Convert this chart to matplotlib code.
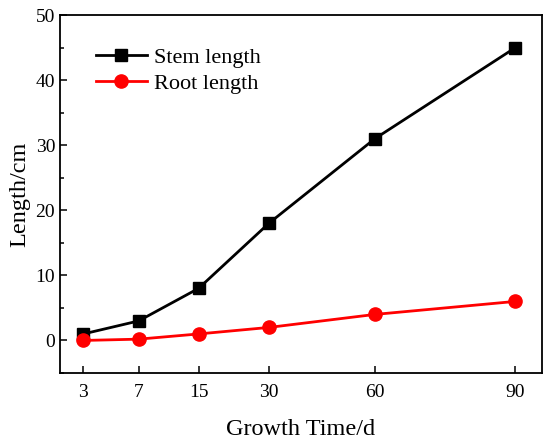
import numpy as np
import matplotlib.pyplot as plt

plt.rcParams['font.family'] = ['Liberation Serif', 'DejaVu Serif']
plt.rcParams['mathtext.fontset'] = 'stix'

# growth days and where they sit on the (uneven) x axis
days = ['3', '7', '15', '30', '60', '90']
day_pos = [0, 0.96, 2.0, 3.22, 5.06, 7.5]

stem = [1, 3, 8, 18, 31, 45]
root = [0, 0.2, 1, 2, 4, 6]

fig = plt.figure(figsize=(5.5, 4.44), dpi=100)
ax = fig.add_axes([60 / 550, 1 - 373 / 444, 482 / 550, 358 / 444])

ax.plot(day_pos, stem, color='black', lw=2.0, marker='s', ms=8, label='Stem length')
ax.plot(day_pos, root, color='red', lw=2.0, marker='o', ms=9.5, label='Root length')

ax.set_xlim(-0.405, 7.96)
ax.set_ylim(-5, 50)
ax.set_xticks(day_pos)
ax.set_xticklabels(days)
ax.set_yticks(np.arange(0, 51, 10))
ax.set_yticks(np.arange(-5, 50, 5), minor=True)

ax.tick_params(which='both', direction='in', labelsize=14, width=1.1)
ax.tick_params(which='major', length=5)
ax.tick_params(which='minor', length=3)
ax.tick_params(axis='x', pad=8)
for s in ax.spines.values():
    s.set_linewidth(1.3)

ax.set_xlabel('Growth Time/d', fontsize=17.5, labelpad=13)
ax.set_ylabel('Length/cm', fontsize=17.5, labelpad=4)

ax.legend(loc='upper left', frameon=False, fontsize=16, handlelength=2.3,
          handletextpad=0.3, labelspacing=0.25, bbox_to_anchor=(0.033, 0.965))

fig.savefig('out.png', dpi=100)
